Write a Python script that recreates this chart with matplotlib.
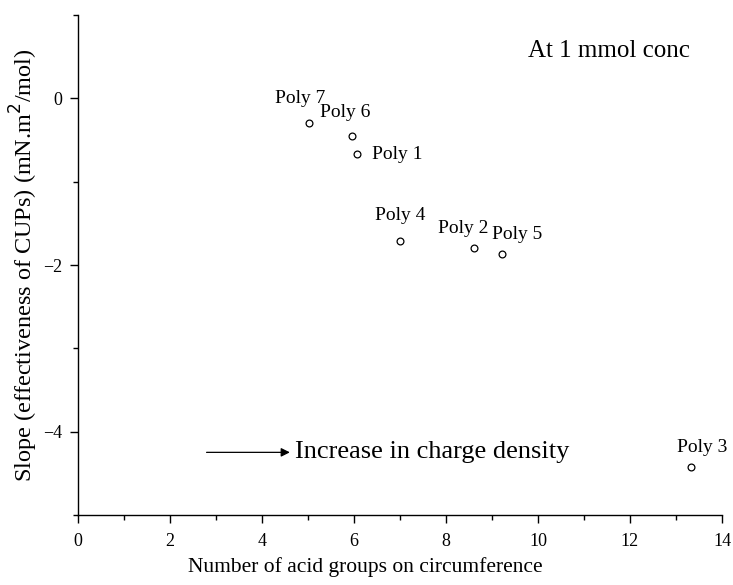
import matplotlib.pyplot as plt
from matplotlib.ticker import MultipleLocator

plt.rcParams['font.family'] = ['Liberation Serif', 'DejaVu Serif']

# acid groups on circumference vs slope
names = ["Poly 1", "Poly 2", "Poly 3", "Poly 4", "Poly 5", "Poly 6", "Poly 7"]
acid_groups = [6.07, 8.61, 13.33, 7.0, 9.22, 5.96, 5.02]
slope = [-0.67, -1.80, -4.42, -1.71, -1.87, -0.45, -0.30]

# label offsets (points) and alignment
offsets = {
    "Poly 1": ((11, 0), "left", "center"),
    "Poly 2": ((-8, 14), "center", "center"),
    "Poly 3": ((8, 14), "center", "center"),
    "Poly 4": ((0, 18), "center", "center"),
    "Poly 5": ((11, 14), "center", "center"),
    "Poly 6": ((-5, 17), "center", "center"),
    "Poly 7": ((-6, 18), "center", "center"),
}

fig = plt.figure(figsize=(7.33, 5.85), dpi=100)
ax = fig.add_axes([0.106, 0.12, 0.879, 0.854])

ax.scatter(acid_groups, slope, s=24, facecolors="white", edgecolors="black",
           linewidths=0.9, zorder=3)

for n, x, y in zip(names, acid_groups, slope):
    (dx, dy), ha, va = offsets[n]
    ax.annotate(n, (x, y), xytext=(dx, dy), textcoords="offset points",
                ha=ha, va=va, fontsize=14)

ax.text(9.78, 0.575, "At 1 mmol conc", fontsize=18, ha="left", va="center")
ax.annotate("", xy=(4.61, -4.25), xytext=(2.8, -4.25),
            arrowprops=dict(arrowstyle="-|>", color="black", lw=0.9,
                            mutation_scale=13, shrinkA=0, shrinkB=0))
ax.text(4.72, -4.25, "Increase in charge density", fontsize=19,
        ha="left", va="center")

ax.set_xlim(0, 14)
ax.set_ylim(-5, 1)
ax.xaxis.set_major_locator(MultipleLocator(2))
ax.xaxis.set_minor_locator(MultipleLocator(1))
ax.yaxis.set_major_locator(MultipleLocator(2))
ax.yaxis.set_minor_locator(MultipleLocator(1))
ax.tick_params(which="both", direction="out", width=1.0, labelsize=13, pad=5)
ax.tick_params(axis="x", pad=7)
ax.tick_params(which="major", length=6)
ax.tick_params(which="minor", length=3.5)

for s in ["top", "right"]:
    ax.spines[s].set_visible(False)
for s in ["left", "bottom"]:
    ax.spines[s].set_linewidth(1.0)

ax.set_xlabel("Number of acid groups on circumference", fontsize=15.5)
ax.set_ylabel("Slope (effectiveness of CUPs) (mN.m$^2$/mol)", fontsize=17.5)
ax.xaxis.set_label_coords(0.446, -0.084)
ax.yaxis.set_label_coords(-0.059, 0.5)

fig.savefig("out.png", dpi=100)
